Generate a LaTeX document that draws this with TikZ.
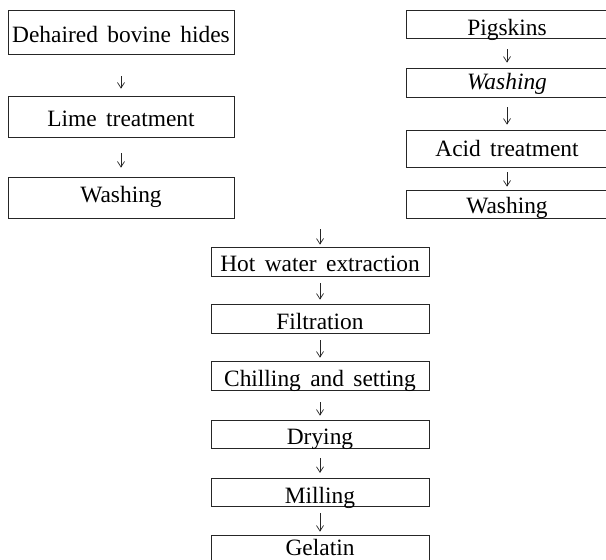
\documentclass[tikz,border=0pt]{standalone}
\usepackage{fontspec}
\setmainfont{Liberation Serif}[WordSpace=1.6]
\usetikzlibrary{arrows.meta}

\tikzset{
  stage/.style={draw=black!85, line width=0.7bp, inner sep=0pt, font=\fontsize{23.5}{27}\selectfont},
  leftstage/.style={stage, minimum width=226bp},
  rightstage/.style={stage, minimum width=202bp},
  midstage/.style={stage, minimum width=218bp},
  flow/.style={-{Straight Barb[length=5.5bp,width=7bp]}, line width=0.7bp, black!85},
}

\begin{document}
\begin{tikzpicture}[x=1bp,y=-1bp]
        \clip (0,0) rectangle (606,560);
        % bovine hides
        \node[leftstage, text height=32.7bp, text depth=11.3bp] (hides) at (121,32) {Dehaired bovine hides};
        \node[leftstage, text height=31bp, text depth=10bp] (lime) at (121,116.5) {Lime treatment};
        \node[leftstage, text height=26bp, text depth=15bp] (washA) at (121,197.5) {Washing};
        % pigskins
        \node[rightstage, text height=25.5bp, text depth=2.5bp] (pig) at (507,24) {Pigskins};
        \node[rightstage, text height=22bp, text depth=7bp] (washB) at (507,82.5) {\itshape Washing};
        \node[rightstage, text height=27bp, text depth=10bp] (acid) at (507,148.5) {Acid treatment};
        \node[rightstage, text height=23.3bp, text depth=4.7bp] (washC) at (507,204) {Washing};
        % common line
        \coordinate (merge) at (320,229);
        \node[midstage, text height=24.7bp, text depth=4.3bp] (hot) at (320,261.5) {Hot water extraction};
        \node[midstage, text height=25bp, text depth=4bp] (filt) at (320,318.5) {Filtration};
        \node[midstage, text height=25bp, text depth=4bp] (chill) at (320,375.5) {Chilling and setting};
        \node[midstage, text height=24.7bp, text depth=3.3bp] (dry) at (320,434) {Drying};
        \node[midstage, text height=25.1bp, text depth=3.4bp] (mill) at (320,492.5) {Milling};
        \node[midstage, text height=20bp, text depth=9bp] (gel) at (320,549.5) {Gelatin};

        \draw[flow, shorten <=22bp, shorten >=7bp] (hides) -- (lime);
        \draw[flow, shorten <=16bp, shorten >=9bp] (lime) -- (washA);
        \draw[flow, shorten <=11bp, shorten >=5bp] (pig) -- (washB);
        \draw[flow, shorten <=10bp, shorten >=5bp] (washB) -- (acid);
        \draw[flow, shorten <=5bp, shorten >=3bp] (acid) -- (washC);
        \draw[flow, shorten >=2bp] (merge) -- (hot);
        \draw[flow, shorten <=7bp, shorten >=4bp] (hot) -- (filt);
        \draw[flow, shorten <=7bp, shorten >=3bp] (filt) -- (chill);
        \draw[flow, shorten <=12bp, shorten >=4bp] (chill) -- (dry);
        \draw[flow, shorten <=10bp, shorten >=5bp] (dry) -- (mill);
        \draw[flow, shorten <=6bp, shorten >=3bp] (mill) -- (gel);
\end{tikzpicture}
\end{document}
